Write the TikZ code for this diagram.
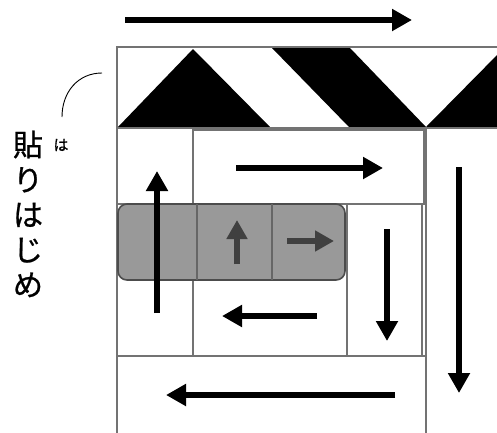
\documentclass[tikz,border=0pt]{standalone}
\usepackage{fontspec}
\newfontfamily\jpfont[FakeBold=0.8]{Noto Sans CJK JP}
\usetikzlibrary{arrows.meta}

\tikzset{
  gridline/.style={draw=gray!90!black, line width=1.6pt},
  bigarrow/.style={line width=6pt, -{Triangle[length=20pt,width=21pt]}},
  tilearrow/.style={draw=black!75, line width=6pt, -{Triangle[length=19pt,width=20pt]}}
}

\begin{document}
\begin{tikzpicture}[x=1pt,y=-1pt]
\clip (0,0) rectangle (497,432);
\fill[white] (0,0) rectangle (497,432);

% hazard strip on top
\fill[black] (118,127) -- (193,49) -- (270,127) -- cycle;
\fill[black] (272,48) -- (350,48) -- (426,127) -- (349,127) -- cycle;
\fill[black] (426,127) -- (503,49) -- (580,127) -- cycle;
\draw[gridline] (500,47) -- (117,47) -- (117,440);
\draw[gridline] (117,128) -- (500,128);
\draw[gridline] (426,128) -- (426,440);

% cells
\draw[gridline] (193,130) rectangle (424,204);
\draw[gridline] (193,128) -- (193,356);
\draw[gridline] (117,204) -- (424,204);
\draw[gridline] (347,204) rectangle (422,356);
\draw[gridline] (117,356) -- (426,356);

% tile
\draw[draw=black!70, fill=gray!80, line width=1.6pt, rounded corners=9pt] (118,204) rectangle (345,280);
\draw[draw=black!60, line width=1.4pt] (197,204) -- (197,280);
\draw[draw=black!60, line width=1.4pt] (272,204) -- (272,280);
\draw[tilearrow] (237,264) -- (237,220);
\draw[tilearrow] (287,241) -- (334,241);

% arrows
\draw[bigarrow] (125,20) -- (412,20);
\draw[bigarrow] (157,313) -- (157,171);
\draw[bigarrow] (236,168) -- (383,168);
\draw[bigarrow] (387,229) -- (387,341);
\draw[bigarrow] (317,316) -- (222,316);
\draw[bigarrow] (395,395) -- (166,395);
\draw[bigarrow] (459,167) -- (459,393);

% label
\draw[line width=0.9pt] (62,117) .. controls (62,92) and (78,73) .. (102,73);
\node[font=\jpfont\fontsize{30}{35}\selectfont, align=center] (start) at (28,214) {貼\\り\\は\\じ\\め};
\node[font=\jpfont\fontsize{15}{15}\selectfont] (ruby) at (61,145) {は};

\end{tikzpicture}
\end{document}
